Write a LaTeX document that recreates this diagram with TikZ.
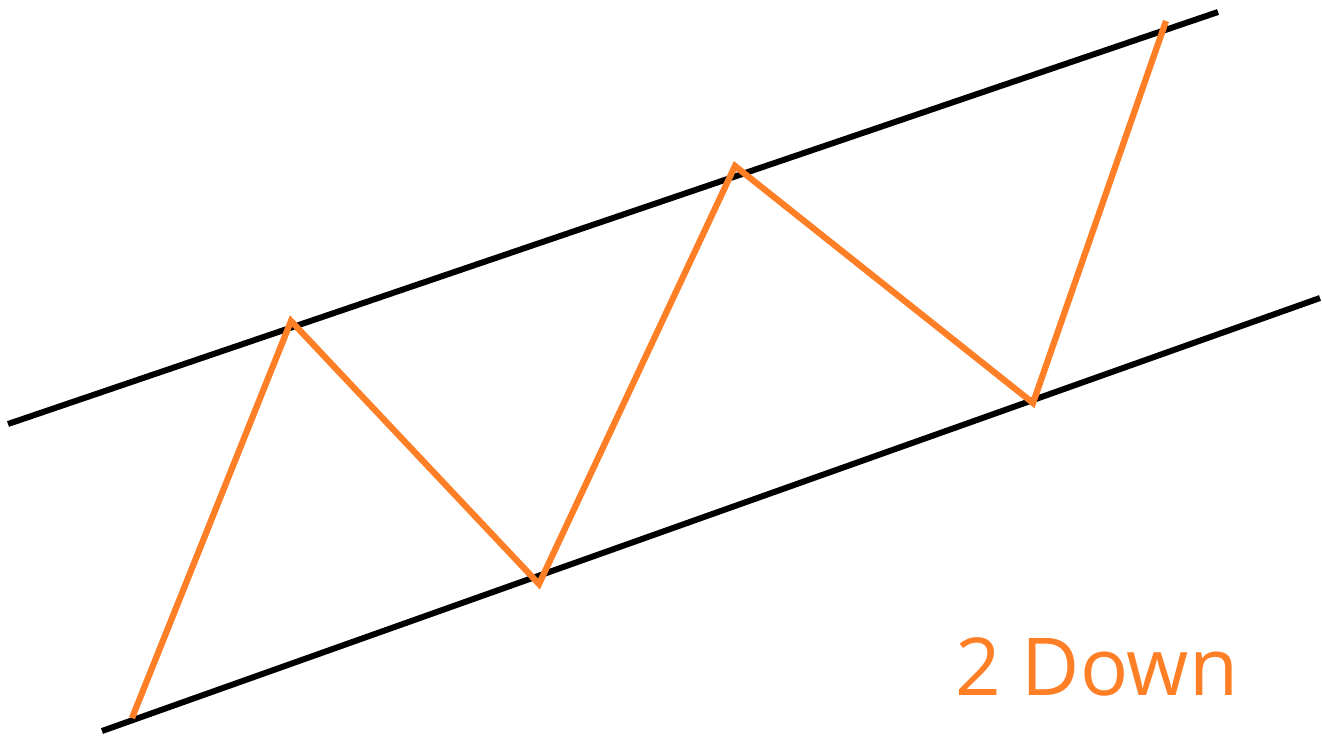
\documentclass[tikz,border=0pt]{standalone}
\usepackage{fontspec}
\setsansfont{Open Sans}
\usepackage{xcolor}
\usepackage{tikz}
\usetikzlibrary{calc,positioning}
\definecolor{trendorange}{HTML}{FF7F27}
\definecolor{channelblack}{HTML}{000000}
\tikzset{
  channel/.style={channelblack, line width=0.12cm, line cap=butt},
  wave/.style={trendorange, line width=0.125cm, line join=miter},
  wavelabel/.style={trendorange, font=\sffamily\fontsize{45.5}{45.5}\selectfont, inner sep=0pt, anchor=base west}
}
\begin{document}
\begin{tikzpicture}[x=0.02cm, y=-0.02cm]
  \useasboundingbox (0,0) rectangle (1322,735);
  % channel lines
  \coordinate (upleft) at (8,424);
  \coordinate (upright) at (1218,12);
  \coordinate (lowleft) at (102,731);
  \coordinate (lowright) at (1320,298);
  \draw[channel] (upleft) -- (upright);
  \draw[channel] (lowleft) -- (lowright);
  % zigzag
  \coordinate (start) at (132,718);
  \coordinate (peakA) at (291,321);
  \coordinate (valleyA) at (539,584);
  \coordinate (peakB) at (735,166);
  \coordinate (valleyB) at (1033,403);
  \coordinate (finish) at (1166,21);
  \draw[wave] (start) -- (peakA) -- (valleyA) -- (peakB) -- (valleyB) -- (finish);
  \node[wavelabel] (count) at (955,695) {2 Down};
\end{tikzpicture}
\end{document}
